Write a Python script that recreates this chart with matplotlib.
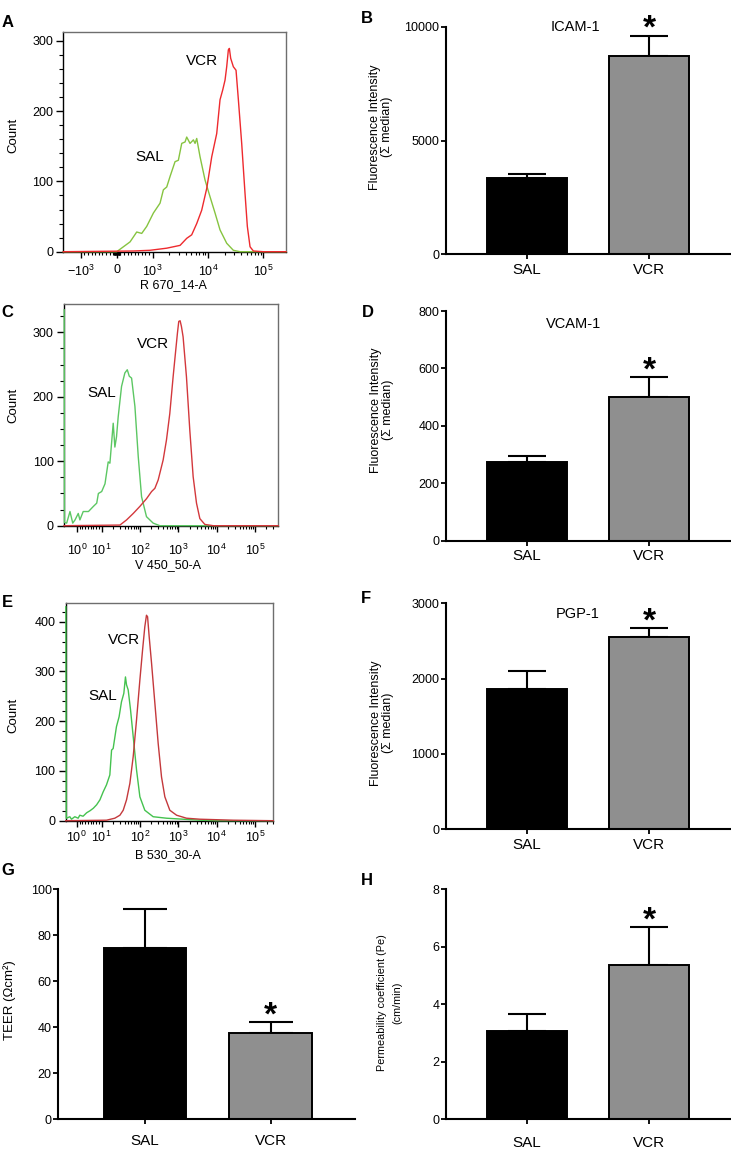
import numpy as np
import matplotlib
matplotlib.use('Agg')
import matplotlib.pyplot as plt
from matplotlib.ticker import FixedLocator, FixedFormatter, MultipleLocator

plt.rcParams['font.family'] = ['Liberation Sans', 'DejaVu Sans']
plt.rcParams['mathtext.fontset'] = 'custom'
plt.rcParams['mathtext.rm'] = 'Liberation Sans'
plt.rcParams['mathtext.it'] = 'Liberation Sans:italic'
plt.rcParams['mathtext.bf'] = 'Liberation Sans:bold'

# ---------------- data ----------------
groups = ['SAL', 'VCR']

# A: ICAM-1 histogram (R 670_14-A)
a_sal_x = [-2070, 0, 371, 556, 695, 834, 1030, 1358, 1560, 1794, 2061, 2366, 2536, 2911, 3350,
           3846, 4121, 4732, 5445, 5834, 6252, 7178, 8831, 10890, 13400, 16490, 21780, 28710, 37930, 257000]
a_sal_y = [0, 0, 14, 28, 26, 36, 55, 69, 88, 92, 107, 121, 128, 130, 154,
           156, 163, 154, 159, 154, 161, 135, 102, 78, 55, 31, 12, 2, 0, 0]
a_vcr_x = [-2070, 463, 926, 1794, 3126, 4121, 5072, 6252, 7691, 9484, 11680, 14370, 16490, 18450, 20320,
           21780, 23330, 24330, 25700, 28710, 32110, 35400, 40640, 46670, 51400, 57540, 66070, 100000, 257000]
a_vcr_y = [0, 1, 2, 5, 9, 19, 24, 40, 59, 90, 135, 168, 216, 230, 244,
           263, 287, 289, 275, 263, 258, 216, 154, 83, 36, 7, 1, 0, 0]

# C: VCAM-1 histogram (V 450_50-A)
c_sal_x = [-3.6, -3.5, -2.7, -1.5, -0.5, 0.33, 1.5, 2.1, 3.3, 5.2, 7.0, 8.2, 8.8, 10.0, 12.2, 14.8, 16.4,
           20.0, 22.1, 24.4, 27.0, 33.0, 40.3, 46.6, 52.5, 60.4, 73.8, 90.2, 110, 148, 221, 330, 410000]
c_sal_y = [335, 5, 4, 22, 4, 9, 19, 9, 22, 22, 30, 35, 50, 53, 65, 99, 97,
           159, 122, 138, 169, 216, 237, 242, 232, 229, 185, 107, 45, 14, 4, 0, 0]
c_vcr_x = [-3.67, 30, 44.7, 66.7, 99.6, 148.6, 201, 245, 299, 403, 492, 601, 734, 845, 952, 1031, 1118,
           1211, 1338, 1637, 2003, 2449, 2995, 3662, 4943, 8166, 410000]
c_vcr_y = [0, 1, 9, 19, 30, 42, 53, 58, 71, 102, 133, 174, 231, 268, 299, 317, 318,
           309, 293, 231, 148, 76, 35, 11, 2, 0, 0]

# E: PGP-1 histogram (B 530_30-A)
e_sal_x = [-2.95, -2.8, -2.7, -1.5, -0.9, 0.3, 1.5, 2.1, 3.3, 4.6, 5.8, 7.0, 8.2, 9.4, 11.0, 13.4, 16.4, 18.2,
           20.0, 24.4, 28.6, 33.0, 38.0, 41.9, 44.7, 49.3, 56.8, 66.7, 81.5, 99.6, 134, 221, 492, 1338, 3662,
           10000, 300000]
e_sal_y = [430, 5, 5, 8, 3, 8, 5, 11, 9, 16, 20, 25, 32, 42, 58, 72, 92, 142,
           145, 189, 209, 239, 256, 289, 273, 263, 223, 169, 102, 48, 21, 8, 5, 3, 1,
           0, 0]
e_vcr_x = [-3.0, 13.4, 22.1, 30, 36.6, 44.7, 54.6, 66.7, 81.5, 99.6, 117, 134, 148, 158, 174,
           201, 245, 299, 365, 446, 601, 903, 1637, 3662, 27200, 300000]
e_vcr_y = [0, 1, 5, 11, 21, 42, 75, 129, 203, 283, 343, 390, 413, 410, 370,
           316, 236, 155, 88, 48, 21, 11, 5, 3, 1, 0]

# bar panels: mean and SEM
icam_mean = [3367, 8726]
icam_err = [147, 879]
vcam_mean = [273, 500]
vcam_err = [22, 70]
pgp_mean = [1858, 2549]
pgp_err = [248, 124]
teer_mean = [74.6, 37.4]
teer_err = [16.7, 4.8]
pe_mean = [3.08, 5.36]
pe_err = [0.57, 1.32]

# ---------------- figure ----------------
W, H = 731, 1149
fig = plt.figure(figsize=(W / 100, H / 100), dpi=100)


def box(left, top, right, bottom):
    # pixel box -> figure fraction
    return [left / W, 1 - bottom / H, (right - left) / W, (bottom - top) / H]


def px_text(x, y, s, **kw):
    fig.text(x / W, 1 - y / H, s, **kw)


def flow_panel(rect, sal, vcr, colors, xlim, ylim, linthresh, linscale, xticks, xlabels, xminor,
               yminor, xpad, sal_pos, vcr_pos):
    ax = fig.add_axes(rect)
    ax.set_xscale('symlog', linthresh=linthresh, linscale=linscale)
    ax.plot(sal[0], sal[1], color=colors[0], lw=1.0, zorder=3, clip_on=False)
    ax.plot(vcr[0], vcr[1], color=colors[1], lw=1.0, zorder=3, clip_on=False)
    ax.set_xlim(xlim)
    ax.set_ylim(ylim)
    ax.xaxis.set_major_locator(FixedLocator(xticks))
    ax.xaxis.set_major_formatter(FixedFormatter(xlabels))
    ax.xaxis.set_minor_locator(FixedLocator(xminor))
    ax.yaxis.set_major_locator(MultipleLocator(100))
    ax.yaxis.set_minor_locator(MultipleLocator(yminor))
    ax.tick_params(axis='y', which='major', length=5.4, width=1, pad=2, labelsize=9)
    ax.tick_params(axis='y', which='minor', length=2.6, width=0.8)
    ax.tick_params(axis='x', which='major', length=4.5, width=1, pad=xpad, labelsize=9)
    ax.tick_params(axis='x', which='minor', length=2.5, width=0.8)
    for s in ['top', 'right']:
        ax.spines[s].set_color('#6e6e6e')
    for s in ax.spines.values():
        s.set_linewidth(1.0)
    ax.text(sal_pos[0], sal_pos[1], 'SAL', ha='center', va='baseline', fontsize=11)
    ax.text(vcr_pos[0], vcr_pos[1], 'VCR', ha='center', va='baseline', fontsize=11)
    return ax


def bar_panel(rect, means, errs, ymax, ystep, xlim, width=0.656, capsize=14, xpad=2.5,
              title=None, title_pos=None):
    ax = fig.add_axes(rect)
    x = np.arange(len(groups))
    ax.errorbar(x, means, yerr=[np.zeros(len(x)), errs], fmt='none', ecolor='black',
                elinewidth=1.5, capsize=capsize, capthick=1.5, zorder=1)
    ax.bar(x, means, width=width, color=['black', '#8f8f8f'], edgecolor='black',
           linewidth=1.4, zorder=2)
    ax.set_xlim(xlim)
    ax.set_ylim(0, ymax)
    ax.set_yticks(np.arange(0, ymax + ystep / 2, ystep))
    ax.set_xticks(x)
    ax.set_xticklabels(groups)
    ax.spines['top'].set_visible(False)
    ax.spines['right'].set_visible(False)
    ax.spines['left'].set_linewidth(1.5)
    ax.spines['bottom'].set_linewidth(1.5)
    ax.tick_params(axis='y', length=3.3, width=1.3, pad=1.5, labelsize=9)
    ax.tick_params(axis='x', length=3.8, width=1.3, pad=xpad, labelsize=11)
    # significance star above the VCR error bar
    fs = 24
    ax.annotate('*', xy=(1, means[1] + errs[1]), xytext=(0, 11.5 - 0.55 * fs),
                textcoords='offset points', ha='center', va='baseline',
                fontsize=fs, fontweight='bold', annotation_clip=False)
    if title:
        ax.text(title_pos[0], title_pos[1], title, transform=ax.transAxes,
                ha='center', va='baseline', fontsize=10.5)
    return ax


lin_minor = [m * 10 ** k for k in (1, 2, 3, 4) for m in range(2, 10)]
a_minor = [-v for v in lin_minor if v < 1000] + lin_minor
ce_minor = [m * 10 ** k for k in (0, 1, 2, 3, 4) for m in range(2, 10)] + [2e5, 3e5]
ce_ticks = [1, 10, 100, 1000, 1e4, 1e5]
ce_labels = ['$10^0$', '$10^1$', '$10^2$', '$10^3$', '$10^4$', '$10^5$']

# A
flow_panel(box(63.3, 31.7, 286, 251.7), (a_sal_x, a_sal_y), (a_vcr_x, a_vcr_y),
           ('#86c440', '#ee2a2e'), (-2070, 257000), (0, 312.8), 1000, 0.585,
           [-1000, 0, 1000, 1e4, 1e5], ['$-10^3$', '0', '$10^3$', '$10^4$', '$10^5$'],
           a_minor, 20, 4.0, (926, 129), (7690, 265))
px_text(13, 135, 'Count', rotation=90, ha='center', va='center', fontsize=9.5)
px_text(173, 288, 'R 670_14-A', ha='center', va='baseline', fontsize=9)

# C
flow_panel(box(64, 304, 278.3, 525.7), (c_sal_x, c_sal_y), (c_vcr_x, c_vcr_y),
           ('#5cc763', '#d3383c'), (-3.67, 410000), (0, 344), 10, 0.648,
           ce_ticks, ce_labels, ce_minor, 25, 8.0, (10.0, 199), (221, 275))
px_text(13, 405, 'Count', rotation=90, ha='center', va='center', fontsize=9.5)
px_text(168, 568, 'V 450_50-A', ha='center', va='baseline', fontsize=9)

# E
flow_panel(box(65.7, 603.3, 273.3, 820.7), (e_sal_x, e_sal_y), (e_vcr_x, e_vcr_y),
           ('#45c24f', '#c4393c'), (-3.0, 300000), (0, 437), 10, 0.648,
           ce_ticks, ce_labels, ce_minor, 20, 2.0, (11, 243), (38, 355))
px_text(13, 715, 'Count', rotation=90, ha='center', va='center', fontsize=9.5)
px_text(168, 858, 'B 530_30-A', ha='center', va='baseline', fontsize=9)

# B, D, F, G, H
right_xlim = (-0.664, 1.672)
bar_panel(box(446, 26.7, 731, 254.3), icam_mean, icam_err, 10000, 5000, right_xlim,
          title='ICAM-1', title_pos=(0.453, 0.982))
px_text(381, 127, 'Fluorescence Intensity\n(Σ median)', rotation=90, ha='center',
        va='center', fontsize=9, multialignment='center', linespacing=1.05)

bar_panel(box(446, 311, 731, 540.7), vcam_mean, vcam_err, 800, 200, right_xlim,
          title='VCAM-1', title_pos=(0.447, 0.927))
px_text(382, 410, 'Fluorescence Intensity\n(Σ median)', rotation=90, ha='center',
        va='center', fontsize=9, multialignment='center', linespacing=1.05)

bar_panel(box(446, 603.3, 731, 829.3), pgp_mean, pgp_err, 3000, 1000, right_xlim,
          title='PGP-1', title_pos=(0.462, 0.934))
px_text(382, 723, 'Fluorescence Intensity\n(Σ median)', rotation=90, ha='center',
        va='center', fontsize=9, multialignment='center', linespacing=1.05)

bar_panel(box(58.3, 889.3, 355, 1119.3), teer_mean, teer_err, 100, 20, (-0.691, 1.673),
          width=0.66, capsize=16, xpad=6.5)
px_text(10, 1000, 'TEER (Ωcm²)', rotation=90, ha='center', va='center', fontsize=9.5)

bar_panel(box(446, 889.3, 731, 1119.3), pe_mean, pe_err, 8, 2, right_xlim,
          capsize=14, xpad=8)
px_text(390, 1003, 'Permeability coefficient (Pe)\n(cm/min)', rotation=90, ha='center',
        va='center', fontsize=7.8, multialignment='center', linespacing=1.7)

# panel letters
letters = [('A', 7.5, 26.7), ('B', 366.7, 22.7), ('C', 7.5, 317.3), ('D', 367.5, 317.3),
           ('E', 7, 606.7), ('F', 365.7, 603.3), ('G', 8.3, 875), ('H', 367, 885)]
for s, x, y in letters:
    px_text(x, y, s, ha='center', va='baseline', fontsize=12, fontweight='bold')

fig.savefig('out.png', dpi=100)
